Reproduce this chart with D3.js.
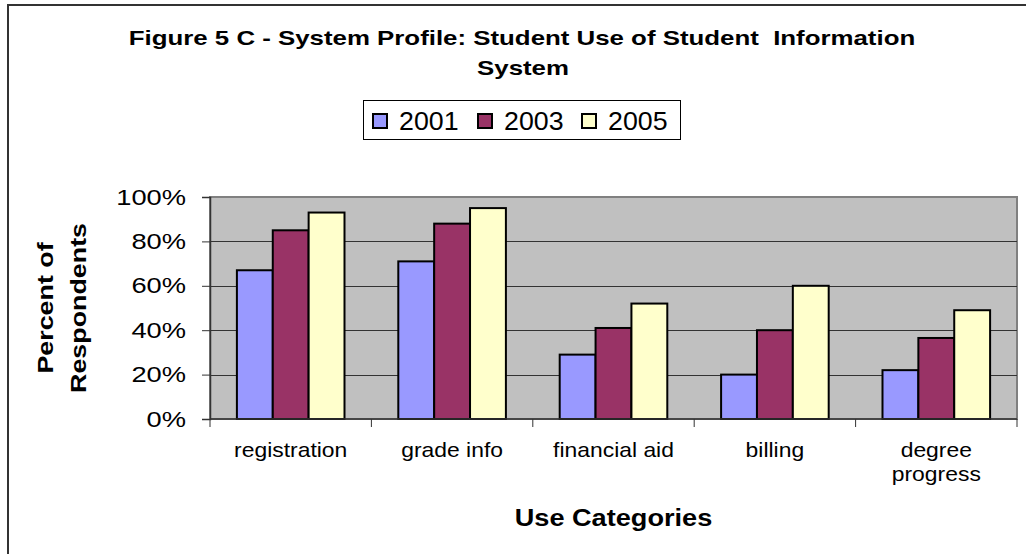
<!DOCTYPE html>
<html>
<head>
<meta charset="utf-8">
<script src="https://cdn.jsdelivr.net/npm/d3@7"></script>
<style>
  body { margin: 0; background: #fff; }
  text { font-family: "Liberation Sans", Arial, sans-serif; fill: #000; }
</style>
</head>
<body>
<script>
// data
var categories = ["registration", "grade info", "financial aid", "billing", "degree progress"];
var years = ["2001", "2003", "2005"];
var v2001 = [0.67, 0.71, 0.29, 0.20, 0.22];
var v2003 = [0.85, 0.88, 0.41, 0.40, 0.365];
var v2005 = [0.93, 0.95, 0.52, 0.60, 0.49];
var yTicks = [0, 0.2, 0.4, 0.6, 0.8, 1.0];
var colors = ["#9999FF", "#993366", "#FFFFCC"];

var series = [v2001, v2003, v2005];

var width = 1026,
    height = 554;

var plot = {left: 210, right: 1017, top: 197, bottom: 419};

// the original font is a bit wider than Liberation Sans, so widen glyphs
function stretch(sel, f) {
  sel.each(function() {
    var w = this.getComputedTextLength();
    d3.select(this).attr("textLength", w * f).attr("lengthAdjust", "spacingAndGlyphs");
  });
}

var svg = d3.select("body").append("svg")
    .attr("width", width)
    .attr("height", height);

// outer chart border
svg.append("rect")
    .attr("x", 8).attr("y", 5)
    .attr("width", width + 20).attr("height", height + 20)
    .attr("fill", "#fff")
    .attr("stroke", "#333").attr("stroke-width", 2);

// title
var title = svg.append("text")
    .attr("text-anchor", "middle")
    .attr("font-weight", "bold")
    .attr("font-size", 21);
title.append("tspan").attr("x", 522).attr("y", 45)
    .text("Figure 5 C - System Profile: Student Use of Student\u00a0 Information");
title.append("tspan").attr("x", 523).attr("y", 75).text("System");
stretch(title.selectAll("tspan"), 1.23);

// legend
var legend = svg.append("g");
legend.append("rect")
    .attr("x", 363.5).attr("y", 100.5)
    .attr("width", 317).attr("height", 39)
    .attr("fill", "#fff").attr("stroke", "#000").attr("stroke-width", 1);
var legX = [373, 478, 582];
years.forEach(function(y, i) {
  legend.append("rect")
    .attr("x", legX[i]).attr("y", 114)
    .attr("width", 14).attr("height", 14)
    .attr("fill", colors[i]).attr("stroke", "#000").attr("stroke-width", 2);
  legend.append("text")
    .attr("x", legX[i] + 26).attr("y", 129.5)
    .attr("font-size", 25)
    .text(y);
});
stretch(legend.selectAll("text"), 1.07);

// scales
var x0 = d3.scaleBand()
    .domain(categories)
    .range([plot.left, plot.right]);

var x1 = d3.scaleBand()
    .domain(years)
    .range([0, x0.bandwidth()])
    .paddingOuter(0.75)
    .paddingInner(0);

var y = d3.scaleLinear()
    .domain([0, 1])
    .range([plot.bottom, plot.top]);

// plot area
svg.append("rect")
    .attr("x", plot.left).attr("y", plot.top)
    .attr("width", plot.right - plot.left).attr("height", plot.bottom - plot.top)
    .attr("fill", "#C0C0C0")
    .attr("stroke", "#808080").attr("stroke-width", 2);

// gridlines
svg.append("g")
  .selectAll("line")
  .data(yTicks.filter(function(d) { return d > 0 && d < 1; }))
  .enter().append("line")
    .attr("x1", plot.left).attr("x2", plot.right)
    .attr("y1", function(d) { return Math.round(y(d)) + 0.5; })
    .attr("y2", function(d) { return Math.round(y(d)) + 0.5; })
    .attr("stroke", "#333").attr("stroke-width", 1);

// bars
var groups = svg.append("g")
  .selectAll("g")
  .data(categories)
  .enter().append("g")
    .attr("transform", function(d) { return "translate(" + x0(d) + ",0)"; });

groups.selectAll("rect")
  .data(function(d, ci) { return years.map(function(yr, si) { return {year: yr, value: series[si][ci], i: si}; }); })
  .enter().append("rect")
    .attr("x", function(d) { return x1(d.year); })
    .attr("y", function(d) { return y(d.value); })
    .attr("width", x1.bandwidth())
    .attr("height", function(d) { return y(0) - y(d.value); })
    .attr("fill", function(d) { return colors[d.i]; })
    .attr("stroke", "#000").attr("stroke-width", 2);

// y axis
var yAxis = svg.append("g")
    .attr("transform", "translate(" + plot.left + ",0)")
    .call(d3.axisLeft(y).tickValues(yTicks).tickFormat(d3.format(".0%")).tickSize(8).tickPadding(16));
yAxis.select(".domain").attr("stroke", "#333").attr("stroke-width", 1.5);
yAxis.selectAll(".tick line").attr("stroke", "#333");
yAxis.selectAll("text")
    .attr("font-family", "Liberation Sans, Arial, sans-serif")
    .attr("font-size", 22)
    .attr("fill", "#000");
stretch(yAxis.selectAll("text"), 1.24);

// x axis
var xAxis = svg.append("g")
    .attr("transform", "translate(0," + plot.bottom + ")");
xAxis.append("line")
    .attr("x1", plot.left).attr("x2", plot.right)
    .attr("y1", 0).attr("y2", 0)
    .attr("stroke", "#333").attr("stroke-width", 1.5);
xAxis.selectAll(".xtick")
  .data(categories.concat([null]))
  .enter().append("line")
    .attr("class", "xtick")
    .attr("x1", function(d, i) { return d ? x0(d) : plot.right; })
    .attr("x2", function(d, i) { return d ? x0(d) : plot.right; })
    .attr("y1", 0).attr("y2", 8)
    .attr("stroke", "#333");

var labels = xAxis.selectAll(".xlabel")
  .data(categories)
  .enter().append("text")
    .attr("class", "xlabel")
    .attr("text-anchor", "middle")
    .attr("font-size", 21);
labels.each(function(d) {
  var words = d === "degree progress" ? ["degree", "progress"] : [d];
  var t = d3.select(this);
  words.forEach(function(w, k) {
    t.append("tspan")
      .attr("x", x0(d) + x0.bandwidth() / 2)
      .attr("y", 38 + k * 24)
      .text(w);
  });
});
stretch(labels.selectAll("tspan"), 1.09);

// axis titles
var xTitle = svg.append("text")
    .attr("x", (plot.left + plot.right) / 2)
    .attr("y", 526)
    .attr("text-anchor", "middle")
    .attr("font-weight", "bold")
    .attr("font-size", 23)
    .text("Use Categories");
stretch(xTitle, 1.18);

var yTitle = svg.append("text")
    .attr("transform", "translate(0," + (plot.top + plot.bottom) / 2 + ") rotate(-90)")
    .attr("text-anchor", "middle")
    .attr("font-weight", "bold")
    .attr("font-size", 22);
yTitle.append("tspan").attr("x", 0).attr("y", 53).text("Percent of");
yTitle.append("tspan").attr("x", 0).attr("y", 86).text("Respondents");
stretch(yTitle.selectAll("tspan"), 1.22);
</script>
</body>
</html>
